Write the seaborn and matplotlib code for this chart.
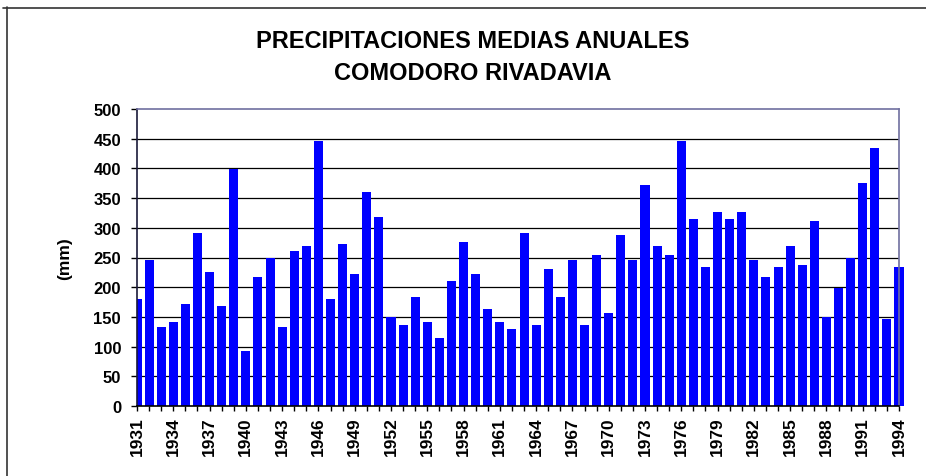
import matplotlib

matplotlib.use("Agg")

import matplotlib.pyplot as plt  # noqa: E402
import pandas as pd  # noqa: E402
import seaborn as sns  # noqa: E402
from matplotlib.lines import Line2D  # noqa: E402

# Precipitación anual (mm), Comodoro Rivadavia 1931-1994
years = list(range(1931, 1995))
precip = [
    180, 245, 133, 141, 172, 292, 226, 169, 399, 92,
    218, 249, 133, 261, 269, 446, 180, 272, 223, 361,
    319, 149, 137, 184, 141, 114, 211, 276, 223, 164,
    141, 130, 292, 137, 230, 184, 245, 137, 254, 157,
    288, 245, 372, 269, 254, 446, 315, 234, 326, 315,
    326, 245, 218, 234, 269, 238, 311, 149, 199, 249,
    376, 434, 146, 234,
]
yticks = list(range(0, 501, 50))

_BLUE = "#0000ff"
_FRAME = "#7070a0"
_INK = "black"

sns.set_theme(style="white")
plt.rcParams["font.family"] = ["Liberation Sans", "DejaVu Sans"]
plt.rcParams["font.weight"] = "bold"
plt.rcParams["text.color"] = _INK
plt.rcParams["axes.labelcolor"] = _INK
plt.rcParams["xtick.color"] = _INK
plt.rcParams["ytick.color"] = _INK

df = pd.DataFrame({"year": [str(y) for y in years], "mm": precip})

fig = plt.figure(figsize=(9.26, 4.77), dpi=100)
ax = fig.add_axes([137 / 926, 70 / 477, 762 / 926, 297 / 477])

sns.barplot(data=df, x="year", y="mm", color=_BLUE, saturation=1,
            width=0.75, edgecolor="none", ax=ax)
ax.patches[-1].set_clip_on(False)

ax.set_xlim(0, len(years) - 1)
ax.set_ylim(0, 500)
ax.set_yticks(yticks)
ax.set_yticklabels([str(v) for v in yticks], fontsize=12, fontweight="bold")
ax.set_xticks(range(len(years)))
ax.set_xticklabels([str(y) if (y - 1931) % 3 == 0 else "" for y in years],
                   rotation=90, fontsize=12.5, fontweight="bold")
ax.tick_params(axis="y", direction="out", length=4.5, width=1, pad=7,
               left=True)
ax.tick_params(axis="x", direction="out", length=3.5, width=1, pad=4,
               bottom=True)
ax.set_xlabel("")
ax.set_ylabel("(mm)", fontsize=12.5, fontweight="bold", labelpad=15)

for v in yticks[1:-1]:
    ax.axhline(v, color="black", linewidth=0.9, zorder=0.5)

ax.spines["left"].set_color("#1a1a3a")
ax.spines["bottom"].set_color("black")
ax.spines["top"].set_color(_FRAME)
ax.spines["right"].set_color(_FRAME)
for s in ax.spines.values():
    s.set_linewidth(1.2)

fig.text(473 / 926, 1 - 42 / 477, "PRECIPITACIONES MEDIAS ANUALES",
         ha="center", va="center", fontsize=17, fontweight="bold")
fig.text(473 / 926, 1 - 73 / 477, "COMODORO RIVADAVIA",
         ha="center", va="center", fontsize=17, fontweight="bold")

# marco del gráfico (bordes izquierdo y superior)
fig.add_artist(Line2D([7 / 926, 7 / 926], [0, 1 - 8 / 477],
                      transform=fig.transFigure, color="#333333", linewidth=1.2))
fig.add_artist(Line2D([3 / 926, 1], [1 - 9 / 477, 1 - 9 / 477],
                      transform=fig.transFigure, color="#333333", linewidth=1.2))

fig.savefig("out.png", dpi=100)
plt.close(fig)
